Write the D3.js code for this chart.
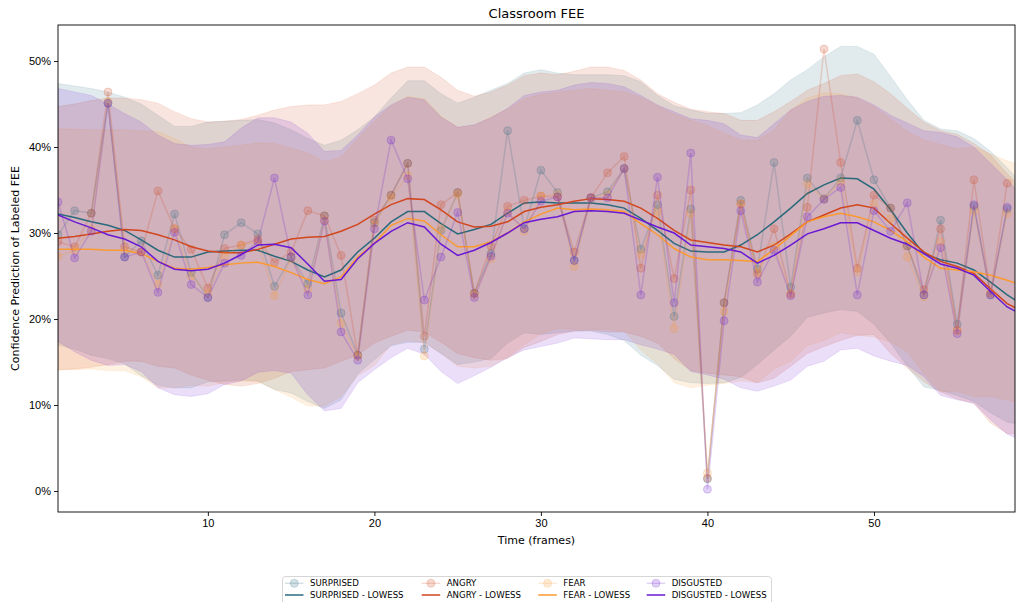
<!DOCTYPE html>
<html>
<head>
<meta charset="utf-8">
<script src="https://cdn.jsdelivr.net/npm/d3@7"></script>
<style>
  body { margin: 0; background: #fff; }
  svg { display: block; font-family: "DejaVu Sans", sans-serif; }
  .axis text { fill: #000; font-size: 11px; }
  .axis line { stroke: #000; stroke-width: 0.9; }
  .axis path { display: none; }
</style>
</head>
<body>
<div id="chart"></div>
<script>
// Raw per-frame confidence (%) for each emotion, frames 1..58
const surprised = [29.8, 32.6, 32.3, 45.1, 27.2, 29.1, 25.1, 32.2, 25.4, 22.5,
  29.8, 31.2, 29.9, 23.8, 27.2, 24.1, 32.0, 20.7, 15.8, 31.2,
  34.4, 38.1, 16.5, 30.3, 34.7, 23.0, 27.6, 41.9, 30.5, 37.3,
  34.7, 26.8, 34.1, 34.8, 37.5, 28.1, 33.3, 20.3, 32.8, 1.4,
  21.9, 33.8, 25.8, 38.2, 23.7, 36.4, 34.0, 36.4, 43.1, 36.2,
  32.9, 28.5, 22.8, 31.5, 19.4, 33.1, 22.8, 32.8];
const angry = [29.0, 28.4, 32.3, 46.4, 28.4, 27.8, 34.9, 30.5, 28.1, 23.6,
  28.2, 28.6, 29.3, 26.6, 27.8, 32.6, 32.0, 27.4, 15.8, 31.5,
  34.4, 38.1, 18.0, 33.3, 34.7, 23.0, 28.5, 33.1, 33.8, 34.3,
  34.2, 27.8, 34.1, 37.0, 38.9, 25.9, 34.4, 24.7, 35.0, 1.5,
  21.9, 33.4, 25.2, 30.5, 22.9, 33.0, 51.4, 38.2, 25.9, 34.4,
  32.9, 28.5, 23.4, 30.5, 18.7, 36.2, 23.0, 35.8];
const fear = [27.3, 28.0, 30.5, 45.3, 28.0, 27.8, 24.0, 30.5, 25.0, 23.0,
  27.3, 28.6, 29.0, 22.7, 27.0, 23.5, 31.5, 19.5, 15.6, 31.0,
  34.1, 36.7, 15.7, 30.5, 34.5, 22.8, 27.0, 32.5, 30.2, 34.3,
  34.5, 26.1, 34.1, 34.5, 37.5, 27.5, 32.5, 18.9, 32.3, 2.1,
  20.9, 33.4, 25.5, 28.5, 22.9, 35.7, 34.0, 36.0, 25.5, 33.4,
  31.7, 27.2, 22.6, 29.0, 18.6, 32.6, 23.0, 32.3];
const disgusted = [33.6, 27.1, 30.2, 45.1, 27.2, 27.8, 23.1, 30.1, 24.0, 22.5,
  26.5, 27.4, 29.0, 36.4, 27.2, 22.8, 31.4, 18.5, 15.2, 30.5,
  40.8, 36.3, 22.2, 27.2, 32.4, 22.5, 27.3, 32.3, 30.5, 33.7,
  34.2, 26.8, 34.1, 34.1, 37.5, 22.8, 36.5, 21.9, 39.3, 0.2,
  19.8, 32.6, 24.3, 28.0, 22.7, 31.9, 33.9, 35.3, 22.8, 32.6,
  30.2, 33.5, 22.8, 28.3, 18.3, 33.3, 22.8, 33.0];

// LOWESS curves, frames 1..59
const surprisedLowess = [32.2, 31.8, 31.3, 30.9, 30.3, 29.2, 28.0, 27.2, 27.2, 27.8,
  27.9, 28.0, 28.0, 27.3, 26.7, 25.7, 24.9, 25.7, 27.8, 29.4,
  31.3, 32.5, 32.5, 31.1, 29.9, 30.4, 31.0, 32.3, 33.5, 33.6,
  33.5, 33.5, 33.5, 33.3, 32.9, 31.7, 30.3, 28.8, 27.9, 27.8,
  27.8, 28.6, 29.8, 31.3, 32.9, 34.6, 35.6, 36.4, 36.3, 35.1,
  32.7, 30.0, 27.6, 26.9, 26.5, 25.7, 24.3, 22.8, 21.6];
const angryLowess = [29.4, 29.6, 29.9, 30.2, 30.4, 30.3, 29.8, 29.2, 28.4, 27.9,
  27.7, 27.7, 28.1, 28.7, 29.3, 29.5, 29.6, 30.2, 31.0, 32.2,
  33.3, 34.0, 33.9, 32.7, 31.3, 30.7, 30.8, 31.3, 32.5, 33.0,
  33.3, 33.7, 34.0, 33.9, 33.7, 32.9, 31.7, 30.3, 29.2, 28.9,
  28.6, 28.4, 27.8, 28.6, 29.9, 31.3, 32.1, 32.9, 33.3, 32.9,
  31.1, 29.4, 27.8, 26.7, 26.1, 25.3, 23.5, 21.8, 20.8];
const fearLowess = [28.1, 28.1, 28.1, 28.0, 28.0, 27.6, 26.7, 25.9, 25.8, 26.0,
  26.3, 26.5, 26.6, 26.1, 25.4, 24.6, 24.1, 24.9, 27.2, 28.8,
  30.9, 31.7, 31.4, 29.8, 28.4, 28.4, 29.0, 30.0, 31.3, 32.2,
  32.9, 32.7, 32.8, 32.7, 32.5, 31.1, 29.8, 28.2, 27.2, 26.9,
  26.9, 26.8, 26.7, 28.1, 29.7, 31.3, 31.9, 32.3, 31.9, 31.3,
  30.3, 29.0, 27.2, 25.9, 25.7, 25.5, 25.1, 24.5, 23.9];
const disgustedLowess = [32.1, 31.3, 30.6, 29.8, 29.3, 28.4, 26.7, 25.8, 25.6, 25.8,
  26.5, 27.5, 28.6, 28.7, 28.3, 26.4, 24.4, 24.6, 27.0, 28.8,
  30.2, 31.2, 30.7, 28.7, 27.4, 28.0, 28.9, 30.0, 31.2, 31.6,
  31.9, 32.5, 32.6, 32.5, 32.3, 31.5, 30.7, 30.0, 28.6, 28.4,
  28.2, 27.8, 26.5, 27.4, 28.6, 29.9, 30.5, 31.2, 31.2, 30.3,
  29.4, 28.7, 27.6, 26.4, 25.9, 25.1, 23.2, 21.4, 20.4];

// Confidence bands, frames 1..59
const surprisedUpper = [47.4, 47.1, 46.8, 46.4, 45.8, 45.0, 43.7, 42.4, 42.4, 42.9,
  43.0, 43.1, 43.2, 42.8, 42.0, 41.0, 40.2, 40.8, 42.0, 43.5,
  45.7, 47.7, 47.7, 46.2, 45.1, 45.8, 46.6, 47.4, 48.6, 49.0,
  48.6, 48.4, 48.4, 48.4, 48.3, 47.6, 46.0, 44.8, 44.3, 43.9,
  43.9, 44.0, 44.9, 46.2, 47.8, 49.0, 50.5, 51.7, 51.7, 50.8,
  48.2, 45.5, 43.1, 42.1, 41.9, 41.0, 39.5, 37.6, 35.5];
const surprisedLower = [17.0, 16.5, 15.8, 15.4, 14.8, 13.4, 12.3, 12.0, 12.0, 12.7,
  12.8, 12.9, 12.8, 11.8, 11.4, 10.4, 9.6, 10.6, 13.6, 15.3,
  16.9, 17.3, 17.3, 16.0, 14.7, 15.0, 15.4, 17.2, 18.4, 18.2,
  18.4, 18.6, 18.6, 18.2, 17.5, 15.8, 14.6, 13.0, 12.6, 12.5,
  12.6, 13.2, 14.7, 16.4, 18.0, 20.2, 20.7, 21.1, 20.9, 19.4,
  17.2, 14.5, 12.1, 11.7, 11.1, 10.4, 9.1, 8.0, 7.7];
const angryUpper = [44.7, 45.0, 45.4, 45.7, 45.7, 45.5, 45.1, 44.1, 43.3, 42.9,
  43.0, 43.2, 43.7, 44.3, 44.7, 44.9, 44.9, 45.3, 46.2, 47.2,
  48.6, 49.3, 49.3, 48.1, 46.6, 45.9, 46.4, 47.2, 48.3, 48.6,
  48.4, 48.8, 49.3, 49.3, 48.9, 47.8, 46.2, 45.2, 44.4, 44.1,
  43.9, 43.1, 43.1, 44.1, 45.3, 46.6, 47.4, 48.3, 48.5, 47.6,
  46.2, 44.5, 42.9, 41.9, 41.5, 40.4, 39.1, 36.9, 35.0];
const angryLower = [14.1, 14.2, 14.4, 14.7, 15.1, 15.1, 14.5, 14.3, 13.5, 12.9,
  12.4, 12.2, 12.5, 13.1, 13.9, 14.1, 14.3, 15.1, 15.8, 17.2,
  18.0, 18.7, 18.5, 17.3, 16.0, 15.5, 15.2, 15.4, 16.7, 17.4,
  18.2, 18.6, 18.7, 18.5, 18.5, 18.0, 17.2, 15.4, 14.0, 13.7,
  13.5, 13.3, 12.6, 13.1, 14.5, 16.0, 16.8, 17.5, 18.1, 18.2,
  16.0, 14.3, 12.7, 11.5, 10.7, 10.2, 7.9, 6.7, 6.6];
const fearUpper = [42.1, 42.1, 42.0, 42.0, 42.0, 41.9, 41.8, 41.0, 40.0, 39.8,
  40.0, 40.2, 40.5, 40.4, 39.9, 39.3, 38.3, 38.8, 41.0, 43.0,
  44.8, 45.9, 45.6, 43.6, 42.3, 42.5, 43.5, 44.4, 45.6, 46.1,
  46.4, 46.6, 46.8, 46.6, 46.4, 45.8, 44.8, 43.8, 43.1, 42.5,
  41.6, 40.8, 40.8, 42.0, 44.3, 45.7, 46.3, 46.2, 45.7, 44.7,
  43.3, 41.8, 40.8, 40.3, 39.8, 40.0, 39.2, 38.4, 37.8];
const fearLower = [14.1, 14.1, 14.2, 14.0, 14.0, 13.3, 12.0, 12.0, 12.3, 12.2,
  12.6, 12.8, 12.7, 11.8, 10.9, 9.9, 9.9, 11.0, 13.4, 14.6,
  17.0, 17.5, 17.2, 16.0, 14.5, 14.3, 14.5, 15.6, 17.0, 18.3,
  18.9, 18.8, 18.8, 18.8, 18.6, 16.4, 14.8, 12.6, 12.0, 12.3,
  12.5, 12.8, 12.6, 14.2, 15.1, 16.9, 17.5, 18.4, 18.1, 17.9,
  17.3, 16.2, 13.6, 11.5, 11.6, 11.0, 11.0, 10.6, 10.0];
const disgustedUpper = [46.8, 46.4, 46.0, 45.0, 43.9, 42.9, 41.4, 40.4, 40.2, 40.3,
  40.6, 42.2, 43.4, 43.4, 42.9, 41.6, 39.5, 39.6, 41.4, 43.5,
  44.9, 45.8, 45.5, 43.5, 42.3, 42.6, 43.4, 44.5, 46.0, 46.4,
  46.6, 47.2, 47.5, 47.4, 47.0, 46.0, 44.9, 44.1, 43.3, 43.1,
  42.7, 41.4, 41.1, 42.7, 44.3, 45.3, 45.9, 46.0, 45.8, 44.9,
  43.7, 42.8, 41.9, 41.7, 41.2, 40.0, 38.1, 36.2, 34.0];
const disgustedLower = [17.4, 16.2, 15.2, 14.6, 14.7, 13.9, 12.0, 11.2, 11.0, 11.3,
  12.4, 12.8, 13.8, 14.0, 13.7, 11.2, 9.3, 9.6, 12.6, 14.1,
  15.5, 16.6, 15.9, 13.9, 12.5, 13.4, 14.4, 15.5, 16.4, 16.8,
  17.2, 17.8, 17.7, 17.6, 17.6, 17.0, 16.5, 15.9, 13.9, 13.5,
  13.0, 12.0, 11.6, 12.2, 12.9, 14.5, 15.1, 16.4, 16.6, 15.7,
  15.1, 14.6, 13.3, 11.1, 10.6, 10.2, 8.3, 6.6, 5.8];

const xTicks = [10, 20, 30, 40, 50];
const yTicks = [0, 10, 20, 30, 40, 50];

const series = [
  { name: 'SURPRISED', color: '#2b6a7c', points: surprised, lowess: surprisedLowess, upper: surprisedUpper, lower: surprisedLower },
  { name: 'ANGRY', color: '#d2461e', points: angry, lowess: angryLowess, upper: angryUpper, lower: angryLower },
  { name: 'FEAR', color: '#fb9a30', points: fear, lowess: fearLowess, upper: fearUpper, lower: fearLower },
  { name: 'DISGUSTED', color: '#6a18d4', points: disgusted, lowess: disgustedLowess, upper: disgustedUpper, lower: disgustedLower },
];

const width = 1016, height = 602;
const margin = { top: 25, right: 1, bottom: 90, left: 58 };
const w = width - margin.left - margin.right;
const h = height - margin.top - margin.bottom;

const svg = d3.select('#chart').append('svg')
  .attr('width', width)
  .attr('height', height);

const g = svg.append('g').attr('transform', `translate(${margin.left},${margin.top})`);

g.append('defs').append('clipPath').attr('id', 'plot-clip')
  .append('rect').attr('width', w).attr('height', h);

// Scales (frame 1 sits on the left spine)
const x = d3.scaleLinear().domain([1, 58.47]).range([0, w]);
const y = d3.scaleLinear().domain([-2.44, 54.19]).range([h, 0]);

const plot = g.append('g').attr('clip-path', 'url(#plot-clip)');

// Bands first (matplotlib draws fill_between under the lines)
const band = d3.area()
  .x((d, i) => x(i + 1))
  .y0(d => y(d[0]))
  .y1(d => y(d[1]));

series.forEach(s => {
  plot.append('path')
    .datum(s.lower.map((v, i) => [v, s.upper[i]]))
    .attr('d', band)
    .attr('fill', s.color)
    .attr('fill-opacity', 0.14)
    .attr('stroke', s.color)
    .attr('stroke-opacity', 0.14)
    .attr('stroke-width', 0.8);
});

const line = d3.line().x((d, i) => x(i + 1)).y(d => y(d));

series.forEach(s => {
  // raw points joined by a faint line
  plot.append('path')
    .datum(s.points)
    .attr('d', line)
    .attr('fill', 'none')
    .attr('stroke', s.color)
    .attr('stroke-opacity', 0.2)
    .attr('stroke-width', 1.5);

  plot.append('g').selectAll('circle')
    .data(s.points)
    .join('circle')
    .attr('cx', (d, i) => x(i + 1))
    .attr('cy', d => y(d))
    .attr('r', 4)
    .attr('fill', s.color)
    .attr('fill-opacity', 0.2)
    .attr('stroke', s.color)
    .attr('stroke-opacity', 0.2)
    .attr('stroke-width', 1);

  // smoothed curve
  plot.append('path')
    .datum(s.lowess)
    .attr('d', line)
    .attr('fill', 'none')
    .attr('stroke', s.color)
    .attr('stroke-width', 1.5);
});

// Axes
g.append('g').attr('class', 'axis')
  .attr('transform', `translate(0,${h})`)
  .call(d3.axisBottom(x).tickValues(xTicks).tickSize(4).tickPadding(3));

g.append('g').attr('class', 'axis')
  .call(d3.axisLeft(y).tickValues(yTicks).tickSize(4).tickPadding(3).tickFormat(d => d + '%'));

// Frame
g.append('rect')
  .attr('width', w).attr('height', h)
  .attr('fill', 'none')
  .attr('stroke', '#000')
  .attr('stroke-width', 0.9);

// Titles
svg.append('text')
  .attr('x', margin.left + w / 2).attr('y', 18)
  .attr('text-anchor', 'middle')
  .attr('font-size', 13)
  .text('Classroom FEE');

svg.append('text')
  .attr('x', margin.left + w / 2).attr('y', 544)
  .attr('text-anchor', 'middle')
  .attr('font-size', 11)
  .text('Time (frames)');

svg.append('text')
  .attr('transform', `translate(19,${margin.top + h / 2}) rotate(-90)`)
  .attr('text-anchor', 'middle')
  .attr('font-size', 11)
  .text('Confidence Prediction of Labeled FEE');

// Legend: 4 columns, raw series on top row, LOWESS on bottom row
const legendCols = [285, 421.7, 538.3, 646.7];
const legend = svg.append('g');
legend.append('rect')
  .attr('x', 282.5).attr('y', 576.5)
  .attr('width', 489).attr('height', 34)
  .attr('rx', 3)
  .attr('fill', '#fff').attr('fill-opacity', 0.8)
  .attr('stroke', '#ccc').attr('stroke-width', 0.8);

series.forEach((s, i) => {
  const lx = legendCols[i];
  const r1 = 583.3, r2 = 595;
  legend.append('line')
    .attr('x1', lx).attr('x2', lx + 18.5).attr('y1', r1).attr('y2', r1)
    .attr('stroke', s.color).attr('stroke-opacity', 0.2).attr('stroke-width', 1.5);
  legend.append('circle')
    .attr('cx', lx + 9.25).attr('cy', r1).attr('r', 4)
    .attr('fill', s.color).attr('fill-opacity', 0.2)
    .attr('stroke', s.color).attr('stroke-opacity', 0.2);
  legend.append('text')
    .attr('x', lx + 25).attr('y', r1 + 3)
    .attr('font-size', 8.6)
    .text(s.name);
  legend.append('line')
    .attr('x1', lx).attr('x2', lx + 18.5).attr('y1', r2).attr('y2', r2)
    .attr('stroke', s.color).attr('stroke-width', 1.5);
  legend.append('text')
    .attr('x', lx + 25).attr('y', r2 + 3)
    .attr('font-size', 8.6)
    .text(s.name + ' - LOWESS');
});
</script>
</body>
</html>
